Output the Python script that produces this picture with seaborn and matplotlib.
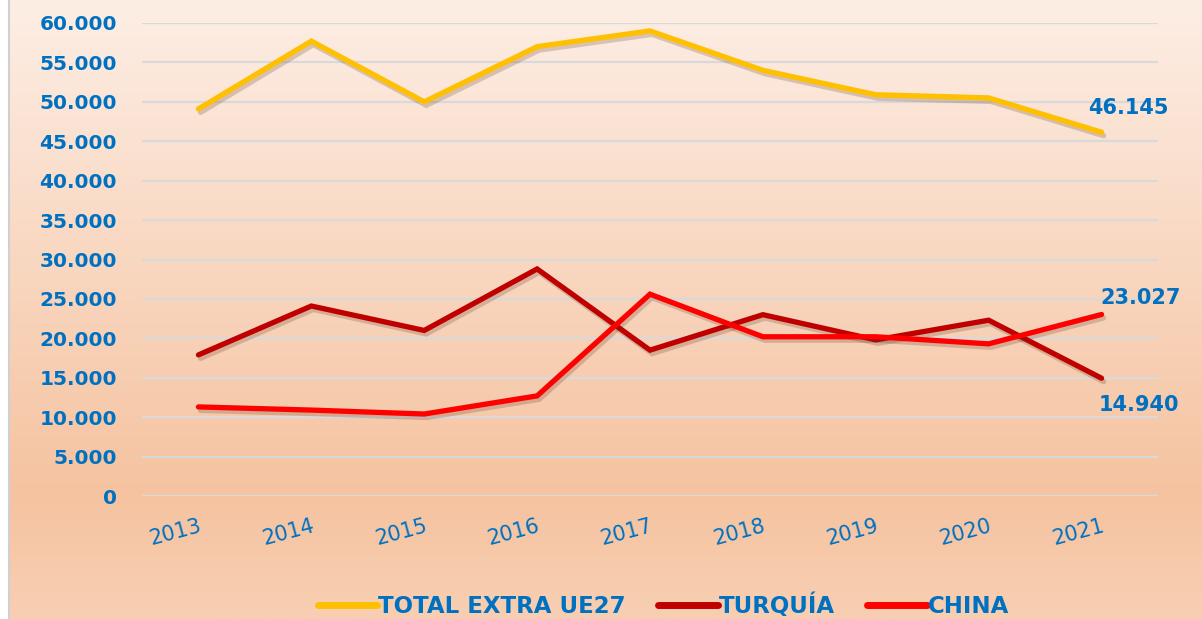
import numpy as np
import pandas as pd
import seaborn as sns
import matplotlib.pyplot as plt
import matplotlib.patheffects as pe
from matplotlib.colors import LinearSegmentedColormap

years = ['2013', '2014', '2015', '2016', '2017', '2018', '2019', '2020', '2021']
total_extra = [49100, 57700, 50000, 57000, 59000, 54000, 50900, 50500, 46145]
turquia = [17900, 24100, 21000, 28800, 18500, 23000, 19800, 22300, 14940]
china = [11300, 10900, 10400, 12700, 25600, 20200, 20200, 19300, 23027]
series = ['TOTAL EXTRA UE27', 'TURQUÍA', 'CHINA']
colors = ['#FFC000', '#C00000', '#FF0000']
yticks = list(range(0, 60001, 5000))

df = pd.concat([
    pd.DataFrame({'year': years, 'valor': vals, 'serie': name})
    for name, vals in zip(series, [total_extra, turquia, china])
])

sns.set_style('white')
plt.rcParams['font.family'] = ['DejaVu Sans']
blue = '#0070C0'

fig = plt.figure(figsize=(12.02, 6.19), dpi=100)

# fondo degradado
bg = fig.add_axes([0, 0, 1, 1], zorder=-10)
cmap = LinearSegmentedColormap.from_list('bg', [(0, '#FDEEE5'), (0.8, '#F5C3A0'), (1, '#F8CFB3')])
grad = np.linspace(0, 1, 256).reshape(-1, 1)
bg.imshow(grad, cmap=cmap, aspect='auto', extent=[9 / 1202, 1, 0, 1], origin='upper')
bg.axvline(8.5 / 1202, color='#D0D0D0', lw=1.5)
bg.set_xlim(0, 1)
bg.set_ylim(0, 1)
bg.axis('off')

ax = fig.add_axes([142 / 1202, 1 - 496 / 619, (1158 - 142) / 1202, 473 / 619])
ax.patch.set_alpha(0)

sns.lineplot(data=df, x='year', y='valor', hue='serie', palette=colors, hue_order=series,
             sort=False, lw=3.8, ax=ax, legend=False)
for line in ax.lines:
    line.set_solid_joinstyle('miter')
    line.set_path_effects([pe.SimpleLineShadow(offset=(1.5, -2.5), alpha=0.22, shadow_color='#5a3020'),
                           pe.Normal()])

ax.set_ylim(0, 60000)
ax.set_xlim(-0.5, 8.5)
ax.set_yticks(yticks)
ax.set_yticklabels([f'{v:,}'.replace(',', '.') for v in yticks])
for v in yticks:
    ax.axhline(v, color='#D9D9D9', lw=1.6, zorder=0)
for s in ax.spines.values():
    s.set_visible(False)
ax.tick_params(axis='y', length=0, pad=18, labelsize=14.5, labelcolor=blue)
ax.tick_params(axis='x', length=0, pad=14, labelsize=15, labelcolor=blue)
for t in ax.get_yticklabels():
    t.set_fontweight('bold')
for t in ax.get_xticklabels():
    t.set_rotation(15)
    t.set_ha('right')
    t.set_rotation_mode('anchor')
ax.set_xlabel('')
ax.set_ylabel('')

# etiquetas finales
lab = dict(color=blue, fontsize=15, fontweight='bold')
ax.annotate('46.145', (8, total_extra[-1]), xytext=(-10, 10), textcoords='offset points', ha='left', va='bottom', **lab)
ax.annotate('23.027', (8, china[-1]), xytext=(-1, 5), textcoords='offset points', ha='left', va='bottom', **lab)
ax.annotate('14.940', (8, turquia[-1]), xytext=(-2, -12), textcoords='offset points', ha='left', va='top', **lab)

handles = [plt.Line2D([], [], color=c, lw=5, solid_capstyle='round') for c in colors]
leg = fig.legend(handles, series, loc='center', bbox_to_anchor=(0.552, 1 - 606 / 619), ncol=3,
                 frameon=False, handlelength=2.6, handletextpad=0.05, columnspacing=1.4,
                 prop={'weight': 'bold', 'size': 16.5})
for t in leg.get_texts():
    t.set_color(blue)

fig.savefig('out.png', dpi=100)
